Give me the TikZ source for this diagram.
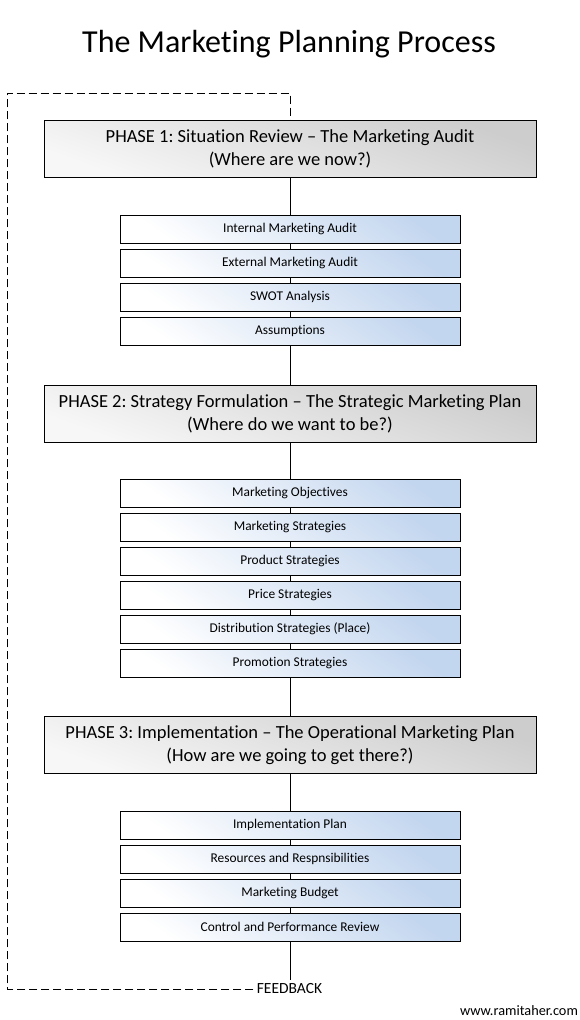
\documentclass[tikz,border=0pt]{standalone}
\usepackage{fontspec}
\setmainfont{Carlito}[Ligatures={TeX,NoCommon}]
\frenchspacing
\definecolor{phasegray}{HTML}{CDCDCD}
\definecolor{stepblue}{HTML}{C3D6EF}

\begin{document}
\begin{tikzpicture}[x=1pt,y=-1pt,
  phase/.style={draw, line width=1pt, minimum width=492pt, minimum height=57pt,
    align=center, font=\fontsize{18.5}{22.5}\selectfont,
    top color=phasegray, bottom color=white!94!gray, shading angle=-20},
  stepbox/.style={draw, line width=1pt, minimum width=340pt, minimum height=28pt,
    font=\fontsize{13.4}{15}\selectfont,
    top color=stepblue, bottom color=white, shading angle=-35},
  link/.style={line width=1pt},
  feedback/.style={line width=1pt, dash pattern=on 8pt off 4pt}]
\useasboundingbox (0,0) rectangle (580,1020);

\node (title) at (289,44) {\fontsize{32}{36}\selectfont The Marketing Planning Process};

%%% phase 1
\node[phase] (p1) at (290,149) {PHASE 1: Situation Review – The Marketing Audit\\(Where are we now?)};
\foreach \t [count=\i] in {Internal Marketing Audit, External Marketing Audit, SWOT Analysis, Assumptions}
\node[stepbox] (a\i) at (290,195+34*\i) {\t};

%%% phase 2
\node[phase] (p2) at (290,414) {PHASE 2: Strategy Formulation – The Strategic Marketing Plan\\(Where do we want to be?)};
\foreach \t [count=\i] in {Marketing Objectives, Marketing Strategies, Product Strategies, Price Strategies,
  Distribution Strategies (Place), Promotion Strategies}
\node[stepbox] (b\i) at (290,459+34*\i) {\t};

%%% phase 3
\node[phase] (p3) at (290,745) {PHASE 3: Implementation – The Operational Marketing Plan\\(How are we going to get there?)};
\foreach \t [count=\i] in {Implementation Plan, Resources and Respnsibilities, Marketing Budget,
  Control and Performance Review}
\node[stepbox] (c\i) at (290,791+34*\i) {\t};

\node (fb) at (289.5,989) {\fontsize{15.5}{17}\selectfont FEEDBACK};
\node (web) at (519,1011) {\fontsize{14.3}{16}\selectfont www.ramitaher.com};

%%% connectors
\draw[link] (p1) -- (a1);
\foreach \i [count=\j from 2] in {1,...,3}
\draw[link] (a\i) -- (a\j);
\draw[link] (a4) -- (p2);
\draw[link] (p2) -- (b1);
\foreach \i [count=\j from 2] in {1,...,5}
\draw[link] (b\i) -- (b\j);
\draw[link] (b6) -- (p3);
\draw[link] (p3) -- (c1);
\foreach \i [count=\j from 2] in {1,...,3}
\draw[link] (c\i) -- (c\j);
\draw[link] (c4.south) -- (c4.south |- fb.north);

%%% feedback loop
\coordinate (corner) at (7,93);
\draw[feedback] (fb.west) -| (corner) -| (p1.north);

\end{tikzpicture}
\end{document}
